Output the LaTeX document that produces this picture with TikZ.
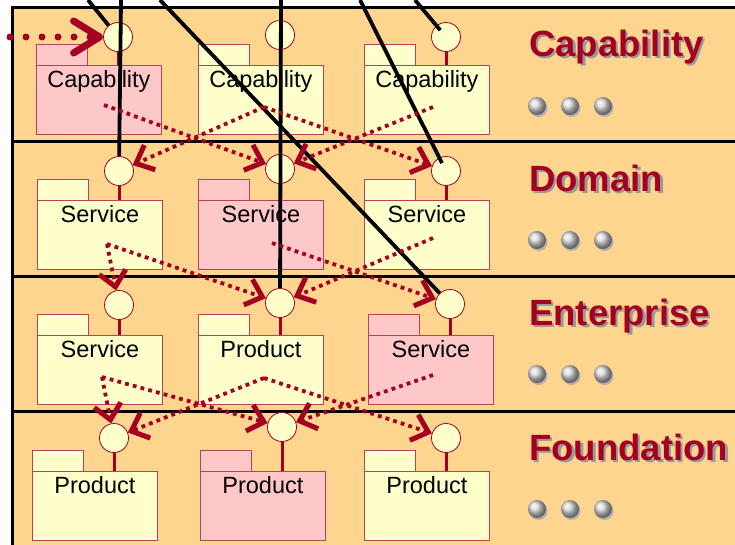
\documentclass[tikz,border=0pt]{standalone}
\usepackage{fontspec}
\setmainfont{Liberation Sans}
\usepackage{tikz}
\usetikzlibrary{arrows.meta,positioning,calc}
\definecolor{cpanel}{HTML}{FDD58E}
\definecolor{cpink}{HTML}{FFC8C8}
\definecolor{cyellow}{HTML}{FFFFCC}
\definecolor{cdark}{HTML}{A50021}
\definecolor{cedge}{HTML}{B8405A}
\newcommand{\pkgfont}{\fontsize{23.5}{28}\selectfont}
\newcommand{\layerfont}{\fontsize{36.5}{40}\selectfont\bfseries}
\newcommand{\shadowed}[1]{\makebox[0pt][l]{\hspace{2.5pt}\raisebox{-2.5pt}{\textcolor{black!40}{#1}}}#1}
\tikzset{
  pkgbody/.style={draw=cedge,line width=0.8pt,anchor=north west,minimum width=125pt,inner xsep=0pt,inner ysep=5.5pt,text height=17pt,text depth=41pt,font=\pkgfont},
  pkgtab/.style={draw=cedge,line width=0.8pt},
  port/.style={circle,draw=cdark,line width=0.8pt,fill=cyellow,minimum size=29pt,inner sep=0pt},
  stem/.style={cdark,line width=3pt},
  wire/.style={black,line width=3.8pt},
  rule/.style={black,line width=3pt},
  flow/.style={cdark,line width=3.8pt,dash pattern=on 3.8pt off 4.2pt,-{Straight Barb[length=15pt,width=27pt,line width=5pt]}},
  entry/.style={cdark,line width=7pt,line cap=round,dash pattern=on 0pt off 16pt,-{Straight Barb[length=26pt,width=32pt,line width=7pt,round]}},
  layer/.style={anchor=base west,inner sep=0pt,font=\layerfont,text=cdark},
  >=Stealth
}
\newcommand{\pkg}[6]{%
  \node[pkgbody,fill=#4] (b#1) at (#2,#3) {#5};
  \draw[pkgtab,fill=#4] (b#1.north west) -- ++(0,-21) -- ++(51,0) -- ++(0,21);
  \node[port] (c#1) at ($(b#1.north west)+(82,-#6)$) {};
  \draw[stem] (c#1.south) -- (c#1.south |- b#1.north);
}

\begin{document}
\begin{tikzpicture}[x=1pt,y=-1pt]
  \useasboundingbox (0,0) rectangle (735,544);
  \fill[white] (0,0) rectangle (735,544);
  \fill[cpanel] (12,7) rectangle (750,560);
  \draw[rule] (12,560) -- (12,7) -- (750,7);
  \foreach \y in {141.5,276,411} \draw[rule] (12,\y) -- (750,\y);

  \pkg{11}{36}{65}{cpink}{Capability}{28}
  \pkg{12}{198}{65}{cyellow}{Capability}{30}
  \pkg{13}{364}{65}{cyellow}{Capability}{28}
  \pkg{21}{37}{200}{cyellow}{Service}{29}
  \pkg{22}{198}{200}{cpink}{Service}{31}
  \pkg{23}{364}{200}{cyellow}{Service}{29}
  \pkg{31}{37}{335}{cyellow}{Service}{30}
  \pkg{32}{198}{335}{cyellow}{Product}{32}
  \pkg{33}{368}{335}{cpink}{Service}{31}
  \pkg{41}{32}{471}{cyellow}{Product}{33}
  \pkg{42}{200}{471}{cpink}{Product}{44}
  \pkg{43}{364}{471}{cyellow}{Product}{33}

  \coordinate (w1) at (88,0);
  \coordinate (w2) at (121,0);
  \coordinate (w3) at (160,0);
  \coordinate (w4) at (281,0);
  \coordinate (w5) at (360,0);
  \coordinate (w6) at (415,0);
  \draw[wire] (w1) -- (c11);
  \draw[wire] (w2) -- (c21);
  \draw[wire] (w3) -- (c33);
  \draw[wire] (w4) -- (c32);
  \draw[wire,shorten >=-6pt] (w5) -- (c23);
  \draw[wire,shorten >=-6pt] (w6) -- (c13);

  \coordinate (in) at (10,37);
  \coordinate (s11) at (104,105);
  \coordinate (s12) at (264,107);
  \coordinate (s13) at (433,107);
  \coordinate (s21) at (107,244);
  \coordinate (s22) at (272,243);
  \coordinate (s23) at (433,238);
  \coordinate (s31) at (102,377);
  \coordinate (s32) at (264,378);
  \coordinate (s33) at (433,375);

  \draw[entry] (in) -- (c11);
  \draw[flow] (s11) -- (c22);
  \draw[flow] (s12) -- (c21);
  \draw[flow] (s12) -- (c23);
  \draw[flow] (s13) -- (c22);
  \draw[flow] (s21) -- (c31);
  \draw[flow] (s21) -- (c32);
  \draw[flow] (s22) -- (c33);
  \draw[flow] (s23) -- (c32);
  \draw[flow] (s31) -- (c41);
  \draw[flow] (s31) -- (c42);
  \draw[flow] (s32) -- (c41);
  \draw[flow] (s32) -- (c43);
  \draw[flow] (s33) -- (c42);

  \foreach \lbl/\y [count=\i] in {Capability/56,Domain/191,Enterprise/325,Foundation/460}
    \node[layer] (layer\i) at (529,\y) {\shadowed{\lbl}};
  \foreach \y in {106,240,374,509}
    \foreach \x in {537,570,603} {
      \fill[black!30] (\x+1.5,\y+2) circle (9pt);
      \shade[ball color=black!15] (\x,\y) circle (9pt);
    }
\end{tikzpicture}
\end{document}
